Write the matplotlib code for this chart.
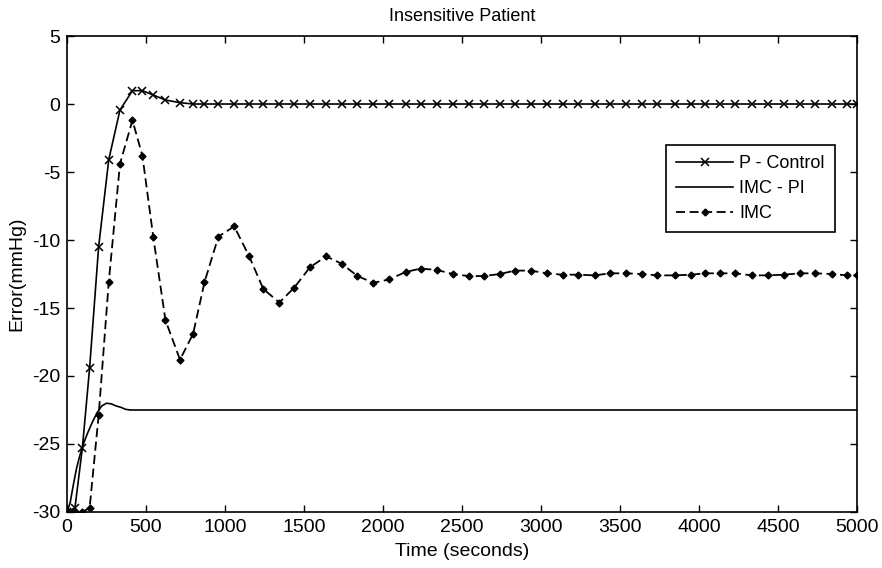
import matplotlib
matplotlib.use("Agg")
import matplotlib.pyplot as plt

plt.rcParams['font.family'] = ['Liberation Sans', 'DejaVu Sans']
plt.rcParams['axes.unicode_minus'] = False

# Shared time grid of the marked series (seconds)
time_s = [0, 50, 97, 143, 200, 264, 335, 414, 477, 546,
          623, 715, 798, 870, 958, 1058, 1153, 1242, 1344, 1438,
          1538, 1640, 1739, 1838, 1939, 2038, 2143, 2239, 2340, 2441,
          2541, 2640, 2738, 2836, 2935, 3035, 3136, 3235, 3340, 3437,
          3539, 3638, 3737, 3845, 3949, 4039, 4134, 4229, 4335, 4434,
          4535, 4636, 4737, 4840, 4935, 5000]

# P - Control error (mmHg)
p_control = [-30.0, -29.7, -25.3, -19.4, -10.5, -4.1, -0.44, 0.98, 0.98, 0.66,
             0.29, 0.1, 0.0, 0.0, 0.0, 0.0, 0.0, 0.0, 0.0, 0.0,
             0.0, 0.0, 0.0, 0.0, 0.0, 0.0, 0.0, 0.0, 0.0, 0.0,
             0.0, 0.0, 0.0, 0.0, 0.0, 0.0, 0.0, 0.0, 0.0, 0.0,
             0.0, 0.0, 0.0, 0.0, 0.0, 0.0, 0.0, 0.0, 0.0, 0.0,
             0.0, 0.0, 0.0, 0.0, 0.0, 0.0]

# IMC error (mmHg)
imc = [-30.0, -30.0, -30.0, -29.7, -22.9, -13.1, -4.4, -1.2, -3.8, -9.8,
       -15.9, -18.8, -16.9, -13.1, -9.75, -9.0, -11.2, -13.6, -14.6, -13.5,
       -12.0, -11.2, -11.75, -12.65, -13.15, -12.9, -12.35, -12.1, -12.2, -12.5,
       -12.65, -12.65, -12.5, -12.25, -12.25, -12.45, -12.55, -12.55, -12.6, -12.45,
       -12.45, -12.5, -12.6, -12.6, -12.55, -12.45, -12.45, -12.45, -12.6, -12.6,
       -12.55, -12.45, -12.45, -12.5, -12.6, -12.6]

# IMC - PI error (mmHg), smooth curve without markers
pi_time = [0, 20, 40, 60, 80, 100, 130, 160, 190, 220,
           250, 280, 310, 340, 370, 400, 5000]
imc_pi = [-30.0, -29.3, -28.0, -26.8, -25.9, -25.1, -24.2, -23.4, -22.7, -22.2,
          -22.0, -22.05, -22.2, -22.3, -22.45, -22.5, -22.5]

fig = plt.figure(figsize=(8.82, 5.68), dpi=100)
ax = fig.add_axes([0.076, 0.0986, 0.8957, 0.838])

ax.plot(time_s, p_control, color='black', linewidth=1.2, marker='x',
        markersize=5.5, markeredgewidth=1.1, label='P - Control')
ax.plot(pi_time, imc_pi, color='black', linewidth=1.2, label='IMC - PI')
ax.plot(time_s, imc, color='black', linewidth=1.3, linestyle=(0, (5, 2.5)),
        marker='D', markersize=3.5, label='IMC')

ax.set_xlim(0, 5000)
ax.set_ylim(-30, 5)
ax.set_xticks(range(0, 5001, 500))
ax.set_yticks(range(-30, 6, 5))
ax.tick_params(direction='in', length=5, width=1, top=True, right=True,
               labelsize=14, pad=5)
for s in ax.spines.values():
    s.set_linewidth(1.2)

ax.set_title('Insensitive Patient', fontsize=13, pad=11)
ax.set_xlabel('Time (seconds)', fontsize=14, labelpad=5)
ax.set_ylabel('Error(mmHg)', fontsize=14, labelpad=5)

leg = ax.legend(loc='upper right', bbox_to_anchor=(0.972, 0.771),
                borderaxespad=0, fontsize=13, handlelength=3.15,
                fancybox=False, edgecolor='black', framealpha=1,
                borderpad=0.55, labelspacing=0.45, handletextpad=0.35)
leg.get_frame().set_linewidth(1.2)

fig.savefig('out.png', dpi=100)
